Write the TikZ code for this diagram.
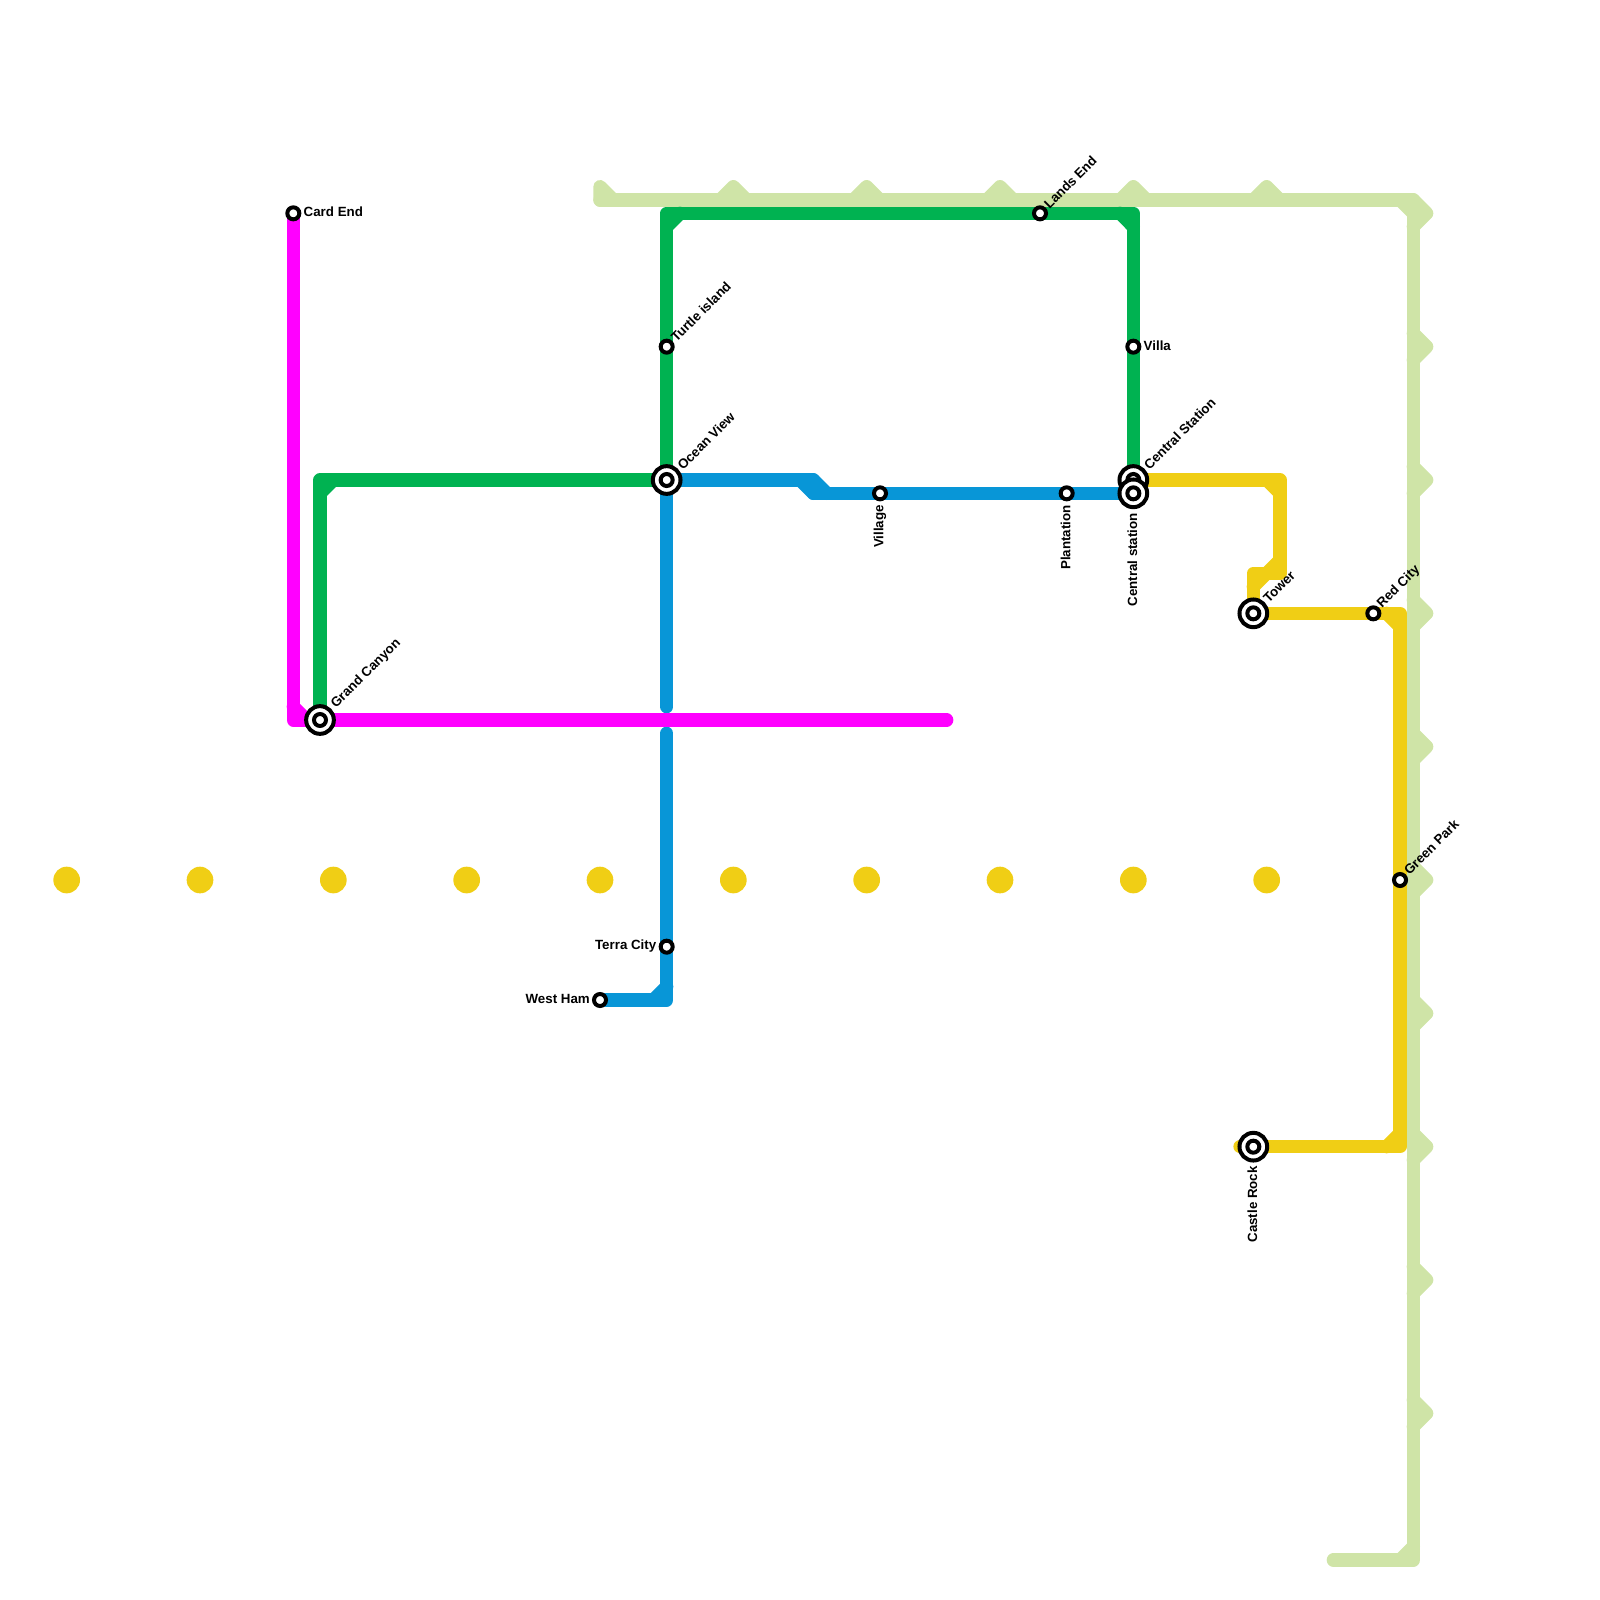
\documentclass[tikz,border=0pt]{standalone}
\usepackage{fontspec}
\setmainfont{Liberation Sans}
\usetikzlibrary{backgrounds}
\definecolor{lgreen}{HTML}{CFE4A7}
\definecolor{mgreen}{HTML}{00B251}
\definecolor{mblue}{HTML}{0896D7}
\definecolor{myellow}{HTML}{F0CE15}
\definecolor{mmagenta}{HTML}{FF00FF}
\tikzset{
  x=1pt,y=-1pt,
  metro/.style={line width=13.333pt,line cap=round,line join=round},
  smallst/.style={circle,draw=black,fill=white,line width=4pt,minimum size=12pt,inner sep=0pt},
  bigst/.style={circle,draw=black,fill=white,line width=4pt,minimum size=27.7pt,inner sep=0pt},
  innerst/.style={circle,draw=black,fill=white,line width=4pt,minimum size=12pt,inner sep=0pt},
  lab/.style={font=\fontsize{13.33}{15}\bfseries\selectfont,inner sep=0pt,text=black},
  ne/.style={lab,rotate=45,anchor=west},
  dn/.style={lab,rotate=90,anchor=east},
  dot/.style={circle,fill=myellow,minimum size=26.67pt,inner sep=0pt},
}
\begin{document}
\begin{tikzpicture}
\useasboundingbox (0,0) rectangle (1600,1600);
% stations
\node[smallst] (card) at (293.33,213.33) {};
\node[bigst] (gc) at (320,720) {}; \node[innerst] (gci) at (gc.center) {};
\node[bigst] (ov) at (666.67,480) {}; \node[innerst] (ovi) at (ov.center) {};
\node[smallst] (turtle) at (666.67,346.67) {};
\node[smallst] (lands) at (1040,213.33) {};
\node[smallst] (villa) at (1133.33,346.67) {};
\node[bigst] (cs) at (1133.33,480) {}; \node[innerst] (csi) at (cs.center) {};
\node[bigst] (cs2) at (1133.33,493.33) {}; \node[innerst] (cs2i) at (cs2.center) {};
\node[smallst] (village) at (880,493.33) {};
\node[smallst] (plant) at (1066.67,493.33) {};
\node[bigst] (tower) at (1253.33,613.33) {}; \node[innerst] (toweri) at (tower.center) {};
\node[smallst] (red) at (1373.33,613.33) {};
\node[smallst] (gp) at (1400,880) {};
\node[bigst] (castle) at (1253.33,1146.67) {}; \node[innerst] (castlei) at (castle.center) {};
\node[smallst] (terra) at (666.67,946.67) {};
\node[smallst] (west) at (600,1000) {};
% labels
\node[lab,anchor=west] (lcard) at (303.5,212) {Card End};
\node[ne] (lgc) at (333.5,706.5) {Grand Canyon};
\node[ne] (lov) at (679.5,467.5) {Ocean View};
\node[ne] (lturtle) at (673,339.5) {Turtle island};
\node[ne] (llands) at (1046,206.5) {Lands End};
\node[lab,anchor=west] (lvilla) at (1143.5,345.5) {Villa};
\node[ne] (lcs) at (1146,467.5) {Central Station};
\node[dn] (lvillage) at (880,505) {Village};
\node[dn] (lplant) at (1065.7,505) {Plantation};
\node[dn] (lcs2) at (1132.3,513) {Central station};
\node[ne] (ltower) at (1265.5,600.5) {Tower};
\node[ne] (lred) at (1379.5,606.5) {Red City};
\node[ne] (lgp) at (1406,872.5) {Green Park};
\node[dn] (lcastle) at (1252.3,1166) {Castle Rock};
\node[lab,anchor=east] (lterra) at (656.5,946.5) {Terra City};
\node[lab,anchor=east] (lwest) at (590,998.5) {West Ham};
% dots
\foreach \i/\px in {1/66.67,2/200,3/333.33,4/466.67,5/600,6/733.33,7/866.67,8/1000,9/1133.33,10/1266.67}
  \node[dot] (d\i) at (\px,880) {};
\begin{pgfonlayer}{background}
% waypoints
\coordinate (ltl) at (600,200);
\coordinate (ltr) at (1413.33,200);
\coordinate (lbr) at (1413.33,1560);
\coordinate (lbl) at (1333.33,1560);
\draw[metro,lgreen] (ltl) -- (ltr) -- (lbr) -- (lbl);
\draw[metro,lgreen] (600,200) -- (600,186.67) -- (613.33,200);
\foreach \px in {733.33,866.67,1000,1133.33,1266.67}
  \draw[metro,lgreen] (\px-13.33,200) -- (\px,186.67) -- (\px+13.33,200);
\foreach \py in {213.33,346.67,480,613.33,746.67,880,1013.33,1146.67,1280,1413.33}
  \draw[metro,lgreen] (1413.33,\py-13.33) -- (1426.67,\py) -- (1413.33,\py+13.33);
\draw[metro,lgreen] (1400,200) -- (1413.33,213.33);
\draw[metro,lgreen] (1400,1560) -- (1413.33,1546.67);
% green line
\coordinate (g1) at (320,480);
\coordinate (g2) at (666.67,213.33);
\coordinate (g3) at (1133.33,213.33);
\draw[metro,mgreen] (gc.center) -- (g1) -- (ov.center) -- (g2) -- (g3) -- (cs.center);
\draw[metro,mgreen] (320,493.33) -- (333.33,480);
\draw[metro,mgreen] (666.67,226.67) -- (680,213.33);
\draw[metro,mgreen] (1120,213.33) -- (1133.33,226.67);
% blue line
\coordinate (b1) at (813.33,480);
\coordinate (b2) at (813.33,493.33);
\coordinate (b3) at (666.67,706.67);
\coordinate (b4) at (666.67,733.33);
\coordinate (b5) at (666.67,1000);
\draw[metro,mblue] (ov.center) -- (b1) -- (b2) -- (cs2.center);
\draw[metro,mblue] (800,480) -- (813.33,493.33);
\draw[metro,mblue] (813.33,480) -- (826.67,493.33);
\draw[metro,mblue] (ov.center) -- (b3);
\draw[metro,mblue] (b4) -- (b5) -- (west.center);
\draw[metro,mblue] (653.33,1000) -- (666.67,986.67);
% yellow line
\coordinate (y1) at (1280,480);
\coordinate (y2) at (1280,573.33);
\coordinate (y3) at (1253.33,573.33);
\coordinate (y4) at (1400,613.33);
\coordinate (y5) at (1400,1146.67);
\coordinate (y6) at (1240,1146.67);
\draw[metro,myellow] (cs.center) -- (y1) -- (y2) -- (y3) -- (tower.center) -- (y4) -- (y5) -- (y6);
\draw[metro,myellow] (1266.67,480) -- (1280,493.33);
\draw[metro,myellow] (1266.67,573.33) -- (1280,560);
\draw[metro,myellow] (1253.33,586.67) -- (1266.67,573.33);
\draw[metro,myellow] (1386.67,613.33) -- (1400,626.67);
\draw[metro,myellow] (1386.67,1146.67) -- (1400,1133.33);
% magenta line
\coordinate (m1) at (293.33,720);
\coordinate (m2) at (946.67,720);
\draw[metro,mmagenta] (card.center) -- (m1) -- (m2);
\draw[metro,mmagenta] (293.33,706.67) -- (306.67,720);
\end{pgfonlayer}
\end{tikzpicture}
\end{document}
